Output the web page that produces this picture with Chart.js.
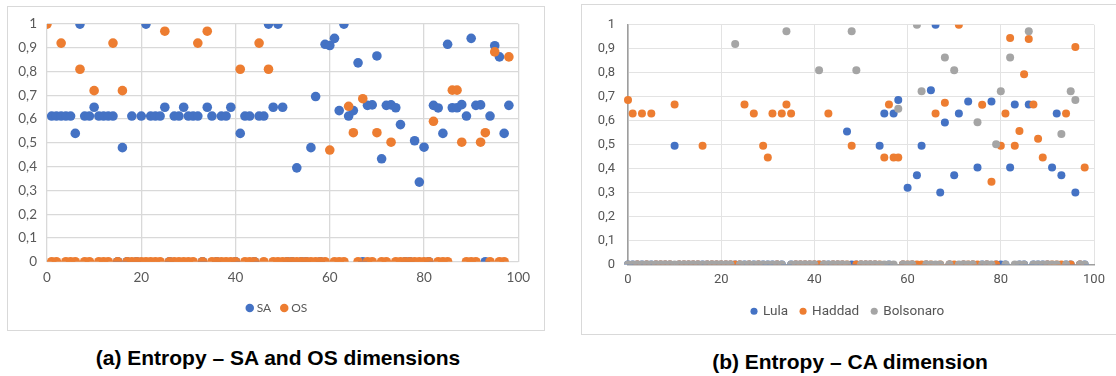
<!DOCTYPE html>
<html>
<head>
<meta charset="utf-8">
<script src="https://cdn.jsdelivr.net/npm/chart.js@4.4.1/dist/chart.umd.min.js"></script>
<style>
  html, body { margin: 0; padding: 0; background: #fff; }
  body { width: 1116px; height: 376px; position: relative; overflow: hidden; }
  .box { position: absolute; box-sizing: border-box; border: 1px solid #d9d9d9; }
  .cv { position: absolute; }
  .cap { position: absolute; font-family: "Liberation Sans", Arial, sans-serif; font-weight: bold;
         font-size: 21px; color: #000; white-space: nowrap; transform: translate(-50%, -50%); }
</style>
</head>
<body>
<div class="box" style="left:7px;top:6px;width:538px;height:325px;"></div>
<canvas id="c1" class="cv" style="left:7px;top:6px;" width="537" height="325"></canvas>
<div class="box" style="left:581px;top:4px;width:560px;height:331px;"></div>
<canvas id="c2" class="cv" style="left:581px;top:4px;" width="535" height="330"></canvas>
<div class="cap" id="t1" style="left:278px;top:358px;"></div>
<div class="cap" id="t2" style="left:850px;top:362px;"></div>
<script>
// ---------- data (a) : index 0..98 ----------
const SA = [null,0.613,0.613,0.613,0.613,0.613,0.54,1,0.613,0.613,
  0.65,0.613,0.613,0.613,0.613,0,0.48,0,0.613,0,
  0.613,1,0.613,0.613,0.613,0.65,0,0.613,0.613,0.65,
  0.613,0.613,0.613,0,0.65,0.613,0,0.613,0.613,0.65,
  0,0.54,0.613,0.613,0,0.613,0.613,1,0.65,1,
  0.65,0,0,0.395,0,0,0.48,0.695,0,0.915,
  0.91,0.94,0.636,1,0.613,0.636,0.837,0,0.658,0.66,
  0.866,0.433,0.658,0.66,0.648,0.577,0,0,0.509,0.335,
  0.482,0,0.658,0.647,0.54,0.915,0.648,0.648,0.661,0.613,
  0.94,0.658,0.66,0,0.613,0.909,0.862,0.54,0.658];
const OS = [1,0,0,0.92,0,0,0,0.81,0,0,
  0.72,0,0,0,0.92,0,0.72,0,0,0,
  0,0,0,0,0,0.97,0,0,0,0,
  0,0,0.92,0,0.97,0,0,0,0,0,
  0,0.81,0,0,0,0.92,0,0.81,0,0,
  0,0,0,0,0,0,0,0,0,0,
  0.47,0,0,0,0.654,0.543,0,0.686,0,0,
  0.543,0,0,0.503,0,0,0,0,0,0,
  0,0,0.591,0,0,0,0.722,0.722,0.503,0,
  0,0,0.503,0.543,0,0.883,0,0,0.862];
// ---------- data (b) : index 0..98 ----------
const Lula = [0,0,0,0,0,0,0,0,0,0,
  0.495,0,0,0,0,0,0,0,0,0,
  0,0,0,0,0,0,0,0,0,0,
  0,0,0,0,null,0,0,0,0,0,
  0,0,0,0,0,0,0,0.555,0,0,
  0,0,0,0,0.495,0.63,0,0.63,0.686,0,
  0.32,0,0.372,0.495,0,0.727,1,0.30,0.592,0,
  0.372,0.63,0,0.68,0,0.405,0,0,0.68,0,
  0,0,0.405,0.667,0,0,0.667,0,0,0,
  0,0.405,0.63,0.372,0,0,0.30,0,0];
const Haddad = [0.686,0.63,0,0.63,0,0.63,0,0,0,0,
  0.667,0,0,0,0,0,0.495,0,0,0,
  0,0,0,0,0,0.667,0,0.63,0,0.495,
  0.446,0.63,0,0.63,0.667,0.63,0,0,0,0,
  0,0,0,0.63,0,0,0,0,0.495,0,
  0,0,0,0,0,0.446,0.667,0.446,0.446,0,
  0,0,0,0,0,0,0.63,0,0.675,0,
  0,1,0,0,0,0,0.666,0,0.345,0,
  0.495,0.63,0.945,0.495,0.557,0.794,0.941,0.667,0.525,0.446,
  0,0,0,0,0.63,0,0.907,0,0.405];
const Bolsonaro = [0,0,0,0,0,0,0,0,0,0,
  0,0,0,0,0,0,0,0,0,0,
  0,0,0,0.92,0,0,0,0,0,0,
  0,0,0,0,0.973,0,0,0,0,0,
  0,0.81,0,0,0,0,0,0,0.973,0.81,
  0,0,0,0,0,0,0,0,0.65,0,
  0,0,1,0.723,0,0,0,0,0.864,0,
  0.81,0,0,0,0,0.593,0,0,0,0.502,
  0.723,0,0.864,0,0,0,0.973,0,0,0,
  0,0,0,0.544,0,0.723,0.686,0,0];
// ---------- labels ----------
const yTickLabels = ['0','0,1','0,2','0,3','0,4','0,5','0,6','0,7','0,8','0,9','1'];
const xTickLabels = ['0','20','40','60','80','100'];
const legendA = ['SA','OS'];
const legendB = ['Lula','Haddad','Bolsonaro'];
const captionA = '(a) Entropy \u2013 SA and OS dimensions';
const captionB = '(b) Entropy \u2013 CA dimension';
const BLUE = '#4472C4', ORANGE = '#ED7D31', GREY = '#A5A5A5';

document.getElementById('t1').textContent = captionA;
document.getElementById('t2').textContent = captionB;

const pts = arr => arr.map((v, i) => ({x: i, y: v}));

function makeChart(id, datasets, cfg) {
  const cv = document.getElementById(id);
  const H = cv.height;
  const shiftLegend = {
    id: 'shiftLegend',
    afterLayout(chart) {
      const lg = chart.legend;
      if (lg) { lg.left += cfg.legDx; lg.right += cfg.legDx; }
    }
  };
  return new Chart(cv, {
    type: 'scatter',
    data: { datasets },
    plugins: [shiftLegend],
    options: {
      responsive: false,
      animation: false,
      events: [],
      layout: { padding: { left: 0, top: cfg.top, right: cfg.right, bottom: cfg.padB } },
      plugins: {
        tooltip: { enabled: false },
        legend: {
          position: 'bottom',
          labels: {
            usePointStyle: true, pointStyle: 'circle',
            boxWidth: cfg.boxW, boxHeight: cfg.boxH,
            padding: cfg.legPad,
            color: cfg.color,
            font: { family: cfg.font, size: cfg.legSize },
            sort: (a, b) => a.datasetIndex - b.datasetIndex
          }
        }
      },
      scales: {
        x: {
          type: 'linear', min: 0, max: 100,
          ticks: { stepSize: 20, color: cfg.color, padding: cfg.xPad,
                   font: { family: cfg.font, size: cfg.tickSize },
                   callback: (v, i) => xTickLabels[i] },
          grid: { color: cfg.grid, lineWidth: cfg.gridW, drawTicks: false },
          border: cfg.xBorder,
          afterFit: s => {
            const lh = s.chart.legend ? s.chart.legend.height : 0;
            s.height = H - cfg.padB - lh - cfg.bottom;
          }
        },
        y: {
          type: 'linear', min: 0, max: 1,
          ticks: { stepSize: 0.1, color: cfg.color, padding: cfg.yPad,
                   font: { family: cfg.font, size: cfg.tickSize },
                   callback: (v, i) => yTickLabels[i] },
          grid: { color: cfg.grid, lineWidth: cfg.gridW, drawTicks: false },
          border: cfg.yBorder,
          afterFit: s => { s.width = cfg.left; }
        }
      }
    }
  });
}

makeChart('c1', [
  { label: legendA[0], data: pts(SA), backgroundColor: BLUE, borderWidth: 0, pointRadius: 4.8, order: 1 },
  { label: legendA[1], data: pts(OS), backgroundColor: ORANGE, borderWidth: 0, pointRadius: 4.8, order: 0 }
], {
  top: 18, right: 25.7, bottom: 255.7, left: 40, padB: 7, legDx: 15.4,
  boxW: 2, boxH: 6, legPad: 12, legSize: 12, tickSize: 13.5, xPad: 8, yPad: 10,
  color: '#595959', font: 'Lato, "Open Sans", sans-serif',
  grid: '#d9d9d9', gridW: 1.3,
  xBorder: { display: false }, yBorder: { display: false }
});

const clipV = { left: false, right: false, top: 0, bottom: 0 };
makeChart('c2', [
  { label: legendB[0], data: pts(Lula), backgroundColor: BLUE, borderWidth: 0, pointRadius: 4, order: 2, clip: clipV },
  { label: legendB[1], data: pts(Haddad), backgroundColor: ORANGE, borderWidth: 0, pointRadius: 4, order: 1, clip: clipV },
  { label: legendB[2], data: pts(Bolsonaro), backgroundColor: GREY, borderWidth: 0, pointRadius: 4, order: 0, clip: clipV }
], {
  top: 16.7, right: 22, bottom: 260.5, left: 47, padB: 6, legDx: 10.5,
  boxW: 4.5, boxH: 5, legPad: 12.75, legSize: 13.5, tickSize: 13, xPad: 7, yPad: 13,
  color: '#555555', font: 'Roboto, "Liberation Sans", sans-serif',
  grid: '#e3e3e3', gridW: 1,
  xBorder: { display: true, color: '#9e9e9e', width: 1.5 },
  yBorder: { display: true, color: '#9e9e9e', width: 1.5 }
});
</script>
</body>
</html>
